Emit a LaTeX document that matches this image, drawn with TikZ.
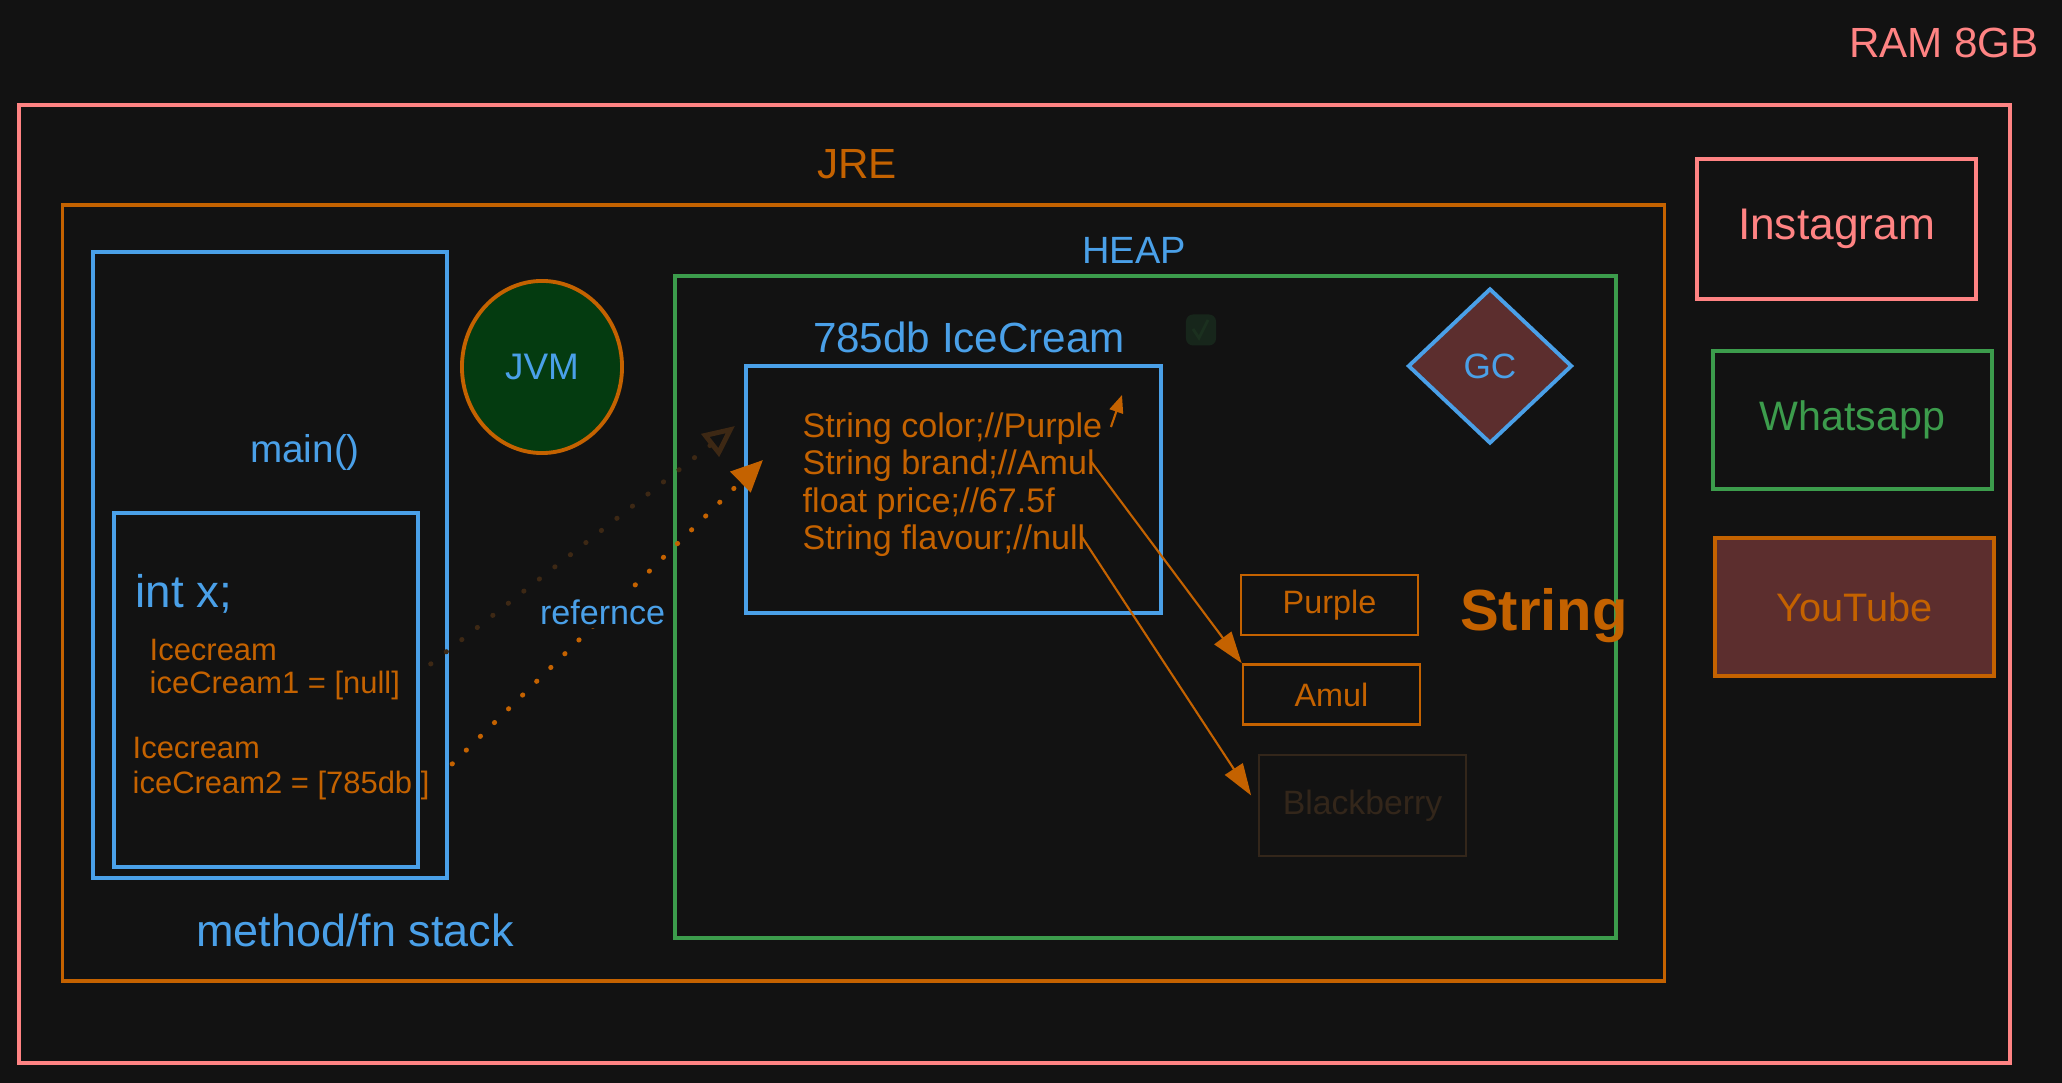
\documentclass[tikz,border=0pt]{standalone}
\usepackage{fontspec}
\setmainfont{Liberation Sans}
\usetikzlibrary{arrows.meta,shapes,positioning}
\definecolor{bgc}{HTML}{121212}
\definecolor{ramc}{HTML}{FF8383}
\definecolor{orng}{HTML}{C46200}
\definecolor{blu}{HTML}{4AA0E8}
\definecolor{grn}{HTML}{3C9C4C}
\definecolor{jvmc}{HTML}{043B10}
\definecolor{maroon}{HTML}{5C2E2E}
\definecolor{faint}{HTML}{33261A}
\definecolor{chkc}{HTML}{17261B}
\tikzstyle{box} = [rectangle, draw, line width=1.1pt, inner sep=0pt]
\tikzstyle{strbox} = [rectangle, draw=orng, line width=0.7pt, inner sep=0pt,
    minimum width=1.77cm, minimum height=0.6cm, text=orng, font=\fontsize{9.2}{11}\selectfont]
\tikzstyle{tag} = [inner sep=0pt, font=\fontsize{12}{14}\selectfont]
\tikzstyle{code} = [inner sep=0pt, anchor=west, text=orng, font=\fontsize{8.8}{10}\selectfont]
\tikzstyle{field} = [inner sep=0pt, anchor=west, text=orng, font=\fontsize{9.7}{11}\selectfont]
\tikzstyle{ref} = [->, line width=1.4pt, dash pattern=on 0.1pt off 5.5pt, line cap=round]
\tikzstyle{link} = [->, orng, line width=0.6pt, >={Triangle[length=9pt,width=6pt]}]

\begin{document}
\begin{tikzpicture}[x=0.01cm,y=-0.01cm,>={Triangle[length=9pt,width=8pt]}]
  \fill[bgc] (0,0) rectangle (2062,1083);
  \useasboundingbox (0,0) rectangle (2062,1083);

  % memory and runtime
  \node[box,draw=ramc,minimum width=19.89cm,minimum height=9.58cm] (ram) at (1014.5,584) {};
  \node[tag,text=ramc] (ramlbl) at (1944,43) {RAM 8GB};
  \node[box,draw=orng,minimum width=16.01cm,minimum height=7.76cm] (jre) at (863.5,593) {};
  \node[tag,text=orng] (jrelbl) at (857,164) {JRE};

  % stack
  \node[box,draw=blu,minimum width=3.54cm,minimum height=6.26cm] (stack) at (270,565) {};
  \node[tag,text=blu,font=\fontsize{11}{13}\selectfont] (mainlbl) at (305,452) {main()};
  \node[box,draw=blu,minimum width=3.04cm,minimum height=3.54cm] (frame) at (266,690) {};
  \node[tag,text=blu,anchor=west,font=\fontsize{13}{15}\selectfont] (intx) at (135,594) {int x;};
  \node[code] (ice1a) at (149,650) {Icecream};
  \node[code] (ice1b) at (149,686) {iceCream1 = [null]};
  \node[code] (ice2a) at (132,748) {Icecream};
  \node[code] (ice2b) at (132,786) {iceCream2 = [785db ]};
  \node[tag,text=blu,font=\fontsize{12.8}{15}\selectfont] (stacklbl) at (355,930) {method/fn stack};

  \node[ellipse,draw=orng,fill=jvmc,line width=1.1pt,minimum width=1.6cm,minimum height=1.72cm,
        text=blu,font=\fontsize{10.5}{12}\selectfont] (jvm) at (542,367) {JVM};

  % heap
  \node[box,draw=grn,minimum width=9.41cm,minimum height=6.62cm] (heap) at (1145.5,607) {};
  \node[tag,text=blu,font=\fontsize{10.8}{13}\selectfont] (heaplbl) at (1134,250) {HEAP};
  \node[tag,text=blu] (objlbl) at (969,337) {785db IceCream};
  \node[rectangle,fill=chkc,rounded corners=2pt,minimum width=0.3cm,minimum height=0.31cm] (chk) at (1201,330) {};
  \draw[chkc!60!grn!45!bgc,line width=0.8pt] ([shift={(-8,-1)}]chk.center) -- ++(6,9) -- ++(9,-18);
  \node[box,draw=blu,minimum width=4.15cm,minimum height=2.47cm] (obj) at (953.5,489.5) {};
  \node[field] (f1) at (802,429) {String color;//Purple};
  \node[field] (f2) at (802,466) {String brand;//Amul};
  \node[field] (f3) at (802,504) {float price;//67.5f};
  \node[field] (f4) at (802,541) {String flavour;//null};

  \node[diamond,draw=blu,fill=maroon,line width=1.1pt,inner sep=0pt,minimum width=1.64cm,
        minimum height=1.55cm,text=blu,font=\fontsize{10}{12}\selectfont] (gc) at (1490,366) {GC};

  \node[strbox] (purple) at (1329.5,605) {Purple};
  \node[strbox] (amul) [below=0.27cm of purple,xshift=0.02cm] {Amul};
  \node[strbox,draw=faint,text=faint,minimum width=2.07cm,minimum height=1.01cm,
        font=\fontsize{9.6}{11}\selectfont] (bb) at (1362.5,805.5) {Blackberry};
  \node[tag,text=orng,font=\bfseries\fontsize{16.5}{19}\selectfont] (strlbl) at (1544,616) {String};

  % other apps
  \node[box,draw=ramc,minimum width=2.79cm,minimum height=1.4cm,text=ramc,
        font=\fontsize{12.6}{15}\selectfont] (insta) at (1836.5,229) {Instagram};
  \node[box,draw=grn,minimum width=2.79cm,minimum height=1.38cm,text=grn,
        font=\fontsize{11.7}{14}\selectfont] (wapp) [below=0.48cm of insta,xshift=0.16cm] {Whatsapp};
  \node[box,draw=orng,fill=maroon,minimum width=2.79cm,minimum height=1.38cm,text=orng,
        font=\fontsize{11.3}{14}\selectfont] (yt) [below=0.45cm of wapp,xshift=0.02cm] {YouTube};

  \coordinate (r1) at (735,426);
  \coordinate (r2) at (763,460);
  \coordinate (up) at (1122,395);

  \path[ref,faint!80!orng!70!bgc,>={Triangle[open,length=9pt,width=8pt]}]
        ([shift={(30,-22)}]ice1b.east) edge (r1);
  \path[ref,orng] ([shift={(22,-22)}]ice2b.east) edge node[tag,fill=bgc,inner sep=1pt,text=blu,
        font=\fontsize{9.7}{11}\selectfont,xshift=-0.05cm] {refernce} (r2);
  \path[link,>={Triangle[length=5pt,width=4pt]}] ([shift={(8,-2)}]f1.east) edge (up);
  \path[link] ([shift={(-4,-4)}]f2.east) edge (amul.north west)
        ([shift={(-4,-4)}]f4.east) edge[shorten >=0.12cm] (bb.west);
\end{tikzpicture}
\end{document}
